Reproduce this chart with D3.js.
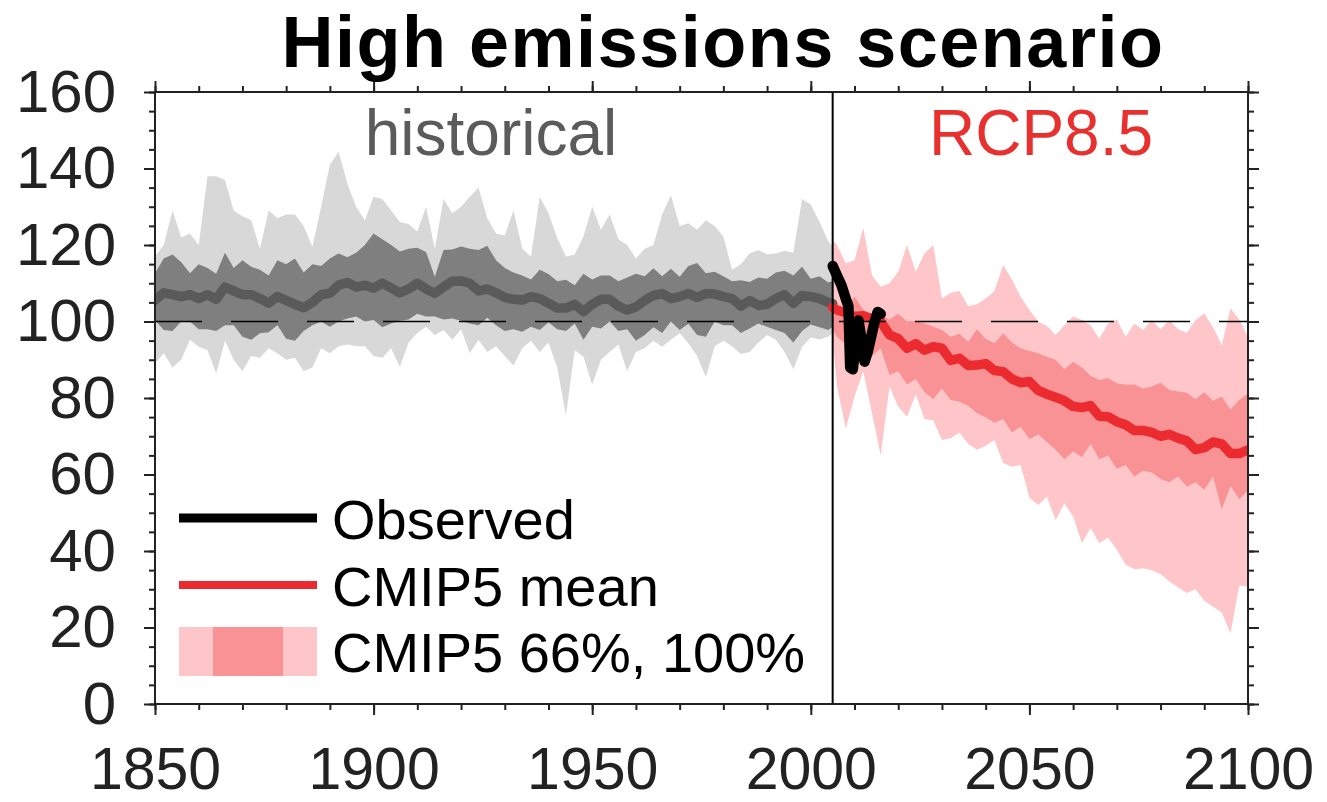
<!DOCTYPE html>
<html>
<head>
<meta charset="utf-8">
<script src="https://cdnjs.cloudflare.com/ajax/libs/d3/7.8.5/d3.min.js"></script>
<style>
  body { margin: 0; background: #fff; }
  text { font-family: "Liberation Sans", Arial, Helvetica, sans-serif; }
</style>
</head>
<body>
<script>

// ---------- data ----------

// historical runs, every 2 years + 2005
var histYears = d3.range(1850, 2005, 2).concat([2005]);

var histMean = [105.6,107.5,107,106.5,107,106,107,105.8,109,108,
  107,107,106,104.8,106.5,105.5,104.5,103.6,105,107,
  107.4,109.5,110.2,109,109.5,108.7,110,108.8,107.5,108.5,
  110,108.5,107.4,109,110.5,110.6,110,108,108.5,107.5,
  106.3,105.8,105.6,106.5,106,104.8,103.5,103.5,104.5,102.6,
  104.5,105.8,105.8,104,103,103.8,105.5,106.8,107.3,106,
  106.5,107.3,106.3,107.3,107.2,106.5,106,104,105.5,104.2,
  104.5,106,107,104.7,106.8,106.5,106,105,104.7];

var histHi66 = [112.6,116.5,117.5,115.5,112.6,115,114,112.5,118,114,
  116,114.3,113.5,112,116,115,116.5,112.8,115,114.5,
  116.5,117.8,116.8,118,120,123,121.5,120,118.3,119,
  119.3,118.2,111.7,118.7,118.8,119.6,119,118.7,119.8,116,
  114,112.8,112,111,113.5,112.4,110.5,110.9,109.5,112.5,
  111,112,112,110.5,111.5,112.5,111.8,113.9,111.8,113.8,
  111.7,114.5,115.3,112.6,113,111.8,110.5,110.8,110.3,111.5,
  111.2,112.8,113.3,112,114.3,111.2,111.8,110.2,110.5];

var histLo66 = [100.4,97.8,97.5,100,100,98,98,97.5,99,99,
  96,95.2,96.9,97.2,99,95.5,95,97.5,99,100,
  98.6,100,100.8,101.3,100,100.4,98.5,99.5,100.2,100.5,
  102,101.3,101.3,100.5,100.8,100.2,99.5,99,101,99,
  97.5,98,97.3,98.6,97.8,99.8,98,97.5,99.5,95.2,
  98.6,98.2,100,97.5,98,95,96.5,98.5,97,100,
  97.8,99.4,96.5,96,100,99,99,97,98.2,99.5,
  98.6,97.8,97,94.5,97.5,99.2,98.5,97.8,98.6];

var histHi100 = [117,120,129,122,123,120,138,138,137,129,
  127.5,126.5,119,129,127,128,128,125,119.5,130,
  141,144.4,136,130,126.5,132.6,132,129,126,125.5,
  123.5,130,119,132,128.3,130,132.6,135,127,123,
  122.5,129,119,117,132.6,128.3,121.8,117,117.5,122.2,
  130,124,128,121.5,120,116.5,119,120,128,133,
  125,125.7,124,126.5,125,122.2,113.5,115,117.8,118.7,
  117.6,117.8,118.5,118,132,130.5,126,121,119.6];

var histLo100 = [89.1,91.7,88,90,95.2,93.4,92.5,86.4,95,90,
  87,91,90.5,93,91.7,90,90.5,87,88,93,
  91.7,93.5,94,93.5,93.5,91,90.5,93,88.2,94.5,
  97,98.6,96.5,97.8,95.2,98,91.7,95.2,92,93.5,
  91,88.5,93,95,92,94.5,88,75.5,92.5,90.8,
  83.5,90,92,94,87,92,93,95,93.4,95.2,
  96.9,94.3,91,85.5,93.5,95,93.5,91.5,92,94.5,
  96.5,95.2,92,87.5,93.4,95.8,95.3,96,96.9];

// RCP8.5 runs, 2005 then every 2 years
var rcpYears = [2005].concat(d3.range(2006, 2101, 2));

var rcpMean = [103.7,103,102.3,101.3,101.5,100.7,100,96.5,95.5,93,
  94.2,92.5,93.4,93,89.8,90.4,88.5,88.6,89,87.2,
  86.9,85,84,84.3,82,81,80.2,79.3,77.8,77.5,
  78,75.2,75.1,73.8,73,71.5,71.5,71,70,70.5,
  69.5,68.8,66.5,67,68.5,68,65.5,65.5,66.4];

var rcpHi66 = [105.2,104,103.5,106.5,103.2,100.8,101.7,100.5,102,100,
  100.2,99.5,98.7,97.8,96,96.8,94.7,98,95.5,94.3,
  96.9,94.5,93,92.3,91.7,90.8,90,87.5,89.5,88,
  85.8,84.7,85.2,83.8,83.5,83.5,82.5,83,84,82.1,
  81.7,81.4,79.7,81.5,79.3,80.4,77,79.5,81.2];

var rcpLo66 = [97.8,96,94,93,91.5,91,93,86,87,83.5,
  85,81.5,79.7,82.5,79.5,79,78,76,75,73.5,
  74.5,71,72.5,69.2,70.5,68.5,66.5,64,66,64.5,
  68,64,65,61.5,62.5,59.5,61,60.5,58.8,58,
  59.5,56.8,58,56,59.5,50.9,57,53.5,55.9];

var rcpHi100 = [121.3,120,115.2,116,124.5,112,109.1,110,113,120,
  113,117.8,120,106,107.5,108,104,104.5,106,108,
  114.8,111,106.5,103,100,98.8,96.5,99,101.3,100.4,
  99,95.5,99.5,100.5,96,99.5,97.8,100.4,98,100.4,
  98,97,100.4,102.1,98.5,93.8,103.4,100.5,96];

var rcpLo100 = [95.2,83,72,80.4,87,76,65,83,77.7,75.1,
  81,74.5,74.2,69,69.5,71,68,66.5,67.5,69,
  63,62,62.5,54,52,54.2,48.1,52.5,49,42,
  46,42,43.5,40.3,36.5,35.2,35.5,35,34,32,
  30.5,29,30,27,25.4,24,18.5,31,30.7];

// observed
var obsYears  = [2005,2006,2007,2008,2008.6,2009,2009.6,2010.3,2010.9,2011.5,2012.3,2013,2013.8,2014.6,2015.3,2016];
var obsValues = [114.5,112,109.5,106,104,88,87.5,94,100.3,96,89.5,92,96,100,102.5,102];

var xTicks = [1850,1900,1950,2000,2050,2100];
var yTicks = [0,20,40,60,80,100,120,140,160];
var legendLabels = ["Observed","CMIP5 mean","CMIP5 66%, 100%"];


// ---------- settings ----------

var windowSettings = {
  width : 1327,//px
  height : 802,//px
};

var graphSettings = {
  left : 155,
  right : 1248,
  top : 92,
  bottom : 704,

  axisColor : "#222",
  grayLight : "#d8d8d8",
  grayDark : "#7f7f7f",
  grayMean : "#5a5a5a",
  pinkLight : "#fec6c8",
  pinkDark : "#f99294",
  red : "#ec2b30",
  lineWidth : 9.5,
  obsWidth : 10.5,
};

var svg = d3.select("body").append("svg")
  .attr("width", windowSettings.width)
  .attr("height", windowSettings.height);

var xScale = d3.scaleLinear().domain([1850, 2100]).range([graphSettings.left, graphSettings.right]);
var yScale = d3.scaleLinear().domain([0, 160]).range([graphSettings.bottom, graphSettings.top]);

svg.append("clipPath").attr("id", "plotclip")
  .append("rect")
  .attr("x", graphSettings.left).attr("y", graphSettings.top)
  .attr("width", graphSettings.right - graphSettings.left)
  .attr("height", graphSettings.bottom - graphSettings.top);

var gg = svg.append("g").attr("clip-path", "url(#plotclip)");


function addBand(years, lo, hi, color) {
  var rows = years.map(function(y, i) { return {x: y, lo: lo[i], hi: hi[i]}; });
  var area = d3.area()
    .x(function(d) { return xScale(d.x); })
    .y0(function(d) { return yScale(d.lo); })
    .y1(function(d) { return yScale(d.hi); });
  gg.append("path").datum(rows).attr("d", area).attr("fill", color);
}

function addLine(years, vals, color, width) {
  var rows = years.map(function(y, i) { return {x: y, v: vals[i]}; });
  var line = d3.line()
    .x(function(d) { return xScale(d.x); })
    .y(function(d) { return yScale(d.v); });
  gg.append("path").datum(rows).attr("d", line)
    .attr("fill", "none").attr("stroke", color)
    .attr("stroke-width", width)
    .attr("stroke-linejoin", "round").attr("stroke-linecap", "round");
}

function addGraph() {
  addBand(histYears, histLo100, histHi100, graphSettings.grayLight);
  addBand(histYears, histLo66, histHi66, graphSettings.grayDark);
  addBand(rcpYears, rcpLo100, rcpHi100, graphSettings.pinkLight);
  addBand(rcpYears, rcpLo66, rcpHi66, graphSettings.pinkDark);

  addLine(histYears, histMean, graphSettings.grayMean, graphSettings.lineWidth);
  addLine(rcpYears, rcpMean, graphSettings.red, graphSettings.lineWidth);

  // 100 reference
  gg.append("line")
    .attr("x1", xScale(1850)).attr("x2", xScale(2100))
    .attr("y1", yScale(100)).attr("y2", yScale(100))
    .attr("stroke", "#000").attr("stroke-width", 1.6)
    .attr("stroke-dasharray", "47,29");

  // historical / scenario split
  gg.append("line")
    .attr("x1", xScale(2005)).attr("x2", xScale(2005))
    .attr("y1", yScale(160)).attr("y2", yScale(0))
    .attr("stroke", "#000").attr("stroke-width", 2);

  addLine(obsYears, obsValues, "#000", graphSettings.obsWidth);
}


function styleAxis(g, size) {
  g.attr("color", graphSettings.axisColor)
    .attr("font-size", size)
    .attr("font-family", "'Liberation Sans', Arial, Helvetica, sans-serif");
  g.select(".domain").remove();
  g.selectAll(".tick line").attr("stroke-width", 2);
  g.selectAll(".tick text").attr("fill", graphSettings.axisColor);
}

function addAxis() {
  var minorY = d3.range(0, 161, 5);
  var minorX = d3.range(1850, 2101, 10);
  var L = graphSettings.left, R = graphSettings.right, T = graphSettings.top, B = graphSettings.bottom;

  styleAxis(svg.append("g").attr("transform", "translate(" + L + ",0)")
    .call(d3.axisLeft(yScale).tickValues(minorY).tickSize(6).tickFormat("")), 10);
  var gy = svg.append("g").attr("transform", "translate(" + L + ",0)")
    .call(d3.axisLeft(yScale).tickValues(yTicks).tickSize(11).tickPadding(28));
  styleAxis(gy, 60);
  gy.selectAll(".tick text").attr("dy", "0.32em");

  styleAxis(svg.append("g").attr("transform", "translate(" + R + ",0)")
    .call(d3.axisRight(yScale).tickValues(minorY).tickSize(6).tickFormat("")), 10);
  styleAxis(svg.append("g").attr("transform", "translate(" + R + ",0)")
    .call(d3.axisRight(yScale).tickValues(yTicks).tickSize(11).tickFormat("")), 10);

  styleAxis(svg.append("g").attr("transform", "translate(0," + B + ")")
    .call(d3.axisBottom(xScale).tickValues(minorX).tickSize(6).tickFormat("")), 10);
  var gx = svg.append("g").attr("transform", "translate(0," + B + ")")
    .call(d3.axisBottom(xScale).tickValues(xTicks).tickSize(11).tickPadding(32.5).tickFormat(d3.format("d")));
  styleAxis(gx, 59);

  styleAxis(svg.append("g").attr("transform", "translate(0," + T + ")")
    .call(d3.axisTop(xScale).tickValues(minorX).tickSize(6).tickFormat("")), 10);
  styleAxis(svg.append("g").attr("transform", "translate(0," + T + ")")
    .call(d3.axisTop(xScale).tickValues(xTicks).tickSize(11).tickFormat("")), 10);

  svg.append("rect")
    .attr("x", L).attr("y", T).attr("width", R - L).attr("height", B - T)
    .attr("fill", "none").attr("stroke", graphSettings.axisColor).attr("stroke-width", 2);
}


function addTexts() {
  svg.append("text")
    .attr("x", 723).attr("y", 67)
    .attr("text-anchor", "middle")
    .attr("font-size", 72).attr("font-weight", "bold")
    .attr("letter-spacing", 1.5)
    .text("High emissions scenario");

  svg.append("text")
    .attr("x", 491).attr("y", 155)
    .attr("text-anchor", "middle").attr("font-size", 64)
    .attr("fill", "#5b5b5b")
    .text("historical");

  svg.append("text")
    .attr("x", 1041).attr("y", 155)
    .attr("text-anchor", "middle").attr("font-size", 64)
    .attr("fill", "#e8302f")
    .text("RCP8.5");
}


function addLegend() {
  var lg = svg.append("g");
  var x0 = 179, x1 = 317;

  lg.append("line").attr("x1", x0).attr("x2", x1).attr("y1", 518).attr("y2", 518)
    .attr("stroke", "#000").attr("stroke-width", 9);
  lg.append("line").attr("x1", x0).attr("x2", x1).attr("y1", 585).attr("y2", 585)
    .attr("stroke", graphSettings.red).attr("stroke-width", 8);

  lg.append("rect").attr("x", x0).attr("y", 627).attr("width", x1 - x0).attr("height", 49)
    .attr("fill", graphSettings.pinkLight);
  lg.append("rect").attr("x", 213).attr("y", 627).attr("width", 70).attr("height", 49)
    .attr("fill", graphSettings.pinkDark);

  lg.selectAll("text.lab")
    .data(legendLabels)
    .join("text")
    .attr("class", "lab")
    .attr("x", 332)
    .attr("y", function(d, i) { return 539 + i * 66.5; })
    .attr("font-size", 56)
    .attr("fill", "#000")
    .text(function(d) { return d; });
}


addGraph();
addAxis();
addTexts();
addLegend();

</script>
</body>
</html>
